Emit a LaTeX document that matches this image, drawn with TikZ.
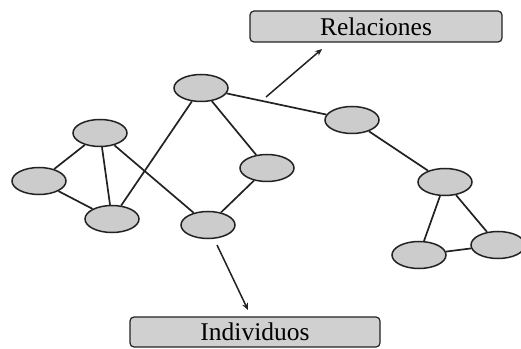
\documentclass[tikz,border=0pt]{standalone}
\usepackage{fontspec}
\setmainfont{Liberation Serif}
\usetikzlibrary{shapes.geometric,arrows.meta}
\definecolor{nodegray}{HTML}{CCCCCC}
\definecolor{boxgray}{HTML}{D0D0D0}
\definecolor{linegray}{HTML}{222222}
\begin{document}
\begin{tikzpicture}[x=1pt,y=1pt,
  vertex/.style={ellipse,draw=linegray,line width=1.5pt,fill=nodegray,minimum width=54pt,minimum height=27pt,inner sep=0pt},
  labelbox/.style={draw=linegray,line width=1.2pt,fill=boxgray,rounded corners=4pt,inner sep=0pt,font=\fontsize{25.5}{30}\selectfont},
  link/.style={draw=linegray,line width=1.7pt},
  pointer/.style={draw=linegray,line width=1.5pt,-{Stealth[length=7pt,width=6pt]}}]
\useasboundingbox (0,0) rectangle (521,348);
% ellipses (y = 348 - pixel y)
\node[vertex] (A) at (201,260) {};
\node[vertex] (B) at (100,215) {};
\node[vertex] (C) at (39,167) {};
\node[vertex] (D) at (112,129) {};
\node[vertex] (E) at (208,123) {};
\node[vertex] (F) at (267,180) {};
\node[vertex] (G) at (352,228) {};
\node[vertex] (H) at (445,166) {};
\node[vertex] (I) at (419,93) {};
\node[vertex] (J) at (498,103) {};
% edges
\draw[link] (A) -- (D);
\draw[link] (A) -- (F);
\draw[link] (A) -- (G);
\draw[link] (B) -- (C);
\draw[link] (B) -- (D);
\draw[link] (B) -- (E);
\draw[link] (C) -- (D);
\draw[link] (E) -- (F);
\draw[link] (G) -- (H);
\draw[link] (H) -- (I);
\draw[link] (H) -- (J);
\draw[link] (I) -- (J);
% label boxes
\node[labelbox,minimum width=252pt,minimum height=31pt] (rel) at (376,321.5) {Relaciones};
\node[labelbox,minimum width=250pt,minimum height=30pt] (ind) at (255,16) {Individuos};
% pointers
\coordinate (r0) at (266,251);
\coordinate (r1) at (322,299);
\coordinate (i0) at (217,103);
\coordinate (i1) at (248,38);
\draw[pointer] (r0) -- (r1);
\draw[pointer] (i0) -- (i1);
\end{tikzpicture}
\end{document}
